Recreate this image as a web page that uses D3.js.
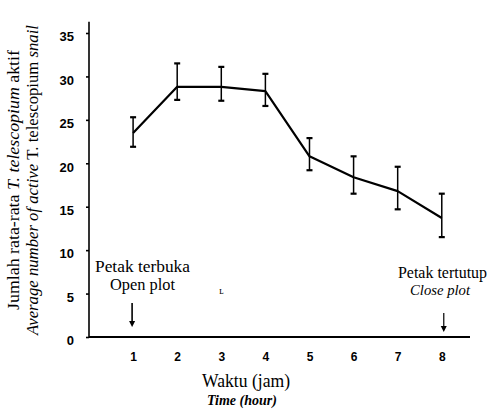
<!DOCTYPE html>
<html><head><meta charset="utf-8">
<script src="https://cdn.jsdelivr.net/npm/d3@7"></script>
<style>body{margin:0;background:#fff}svg{display:block}</style>
</head><body>
<script>
const hours = [1,2,3,4,5,6,7,8];
const means = [23.5, 28.8, 28.8, 28.3, 20.8, 18.4, 16.8, 13.7];
const upper = [25.3, 31.5, 31.1, 30.3, 22.9, 20.8, 19.6, 16.5];
const lower = [21.9, 27.3, 27.2, 26.6, 19.2, 16.5, 14.7, 11.5];
const yTicks = [0,5,10,15,20,25,30,35];
const xTicks = [1,2,3,4,5,6,7,8];

const W=495,H=410;
const svg=d3.select("body").append("svg").attr("width",W).attr("height",H);
const x=d3.scaleLinear().domain([0,8.64]).range([89,470]);
const y=d3.scaleLinear().domain([0,35]).range([337,33]);
const serif="'Liberation Serif','Times New Roman',serif";
const sans="'Liberation Sans',Arial,sans-serif";

// axes
const yAx=svg.append("g").attr("transform",`translate(${x(0)},0)`)
  .call(d3.axisLeft(y).tickValues(yTicks).tickSize(3).tickPadding(12).tickFormat(d3.format("d")));
yAx.select(".domain").remove();
svg.append("line").attr("x1",x(0)).attr("x2",x(0)).attr("y1",y(36.3)).attr("y2",y(0)+1)
  .attr("stroke","#000").attr("stroke-width",1.6);
yAx.selectAll("text").attr("font-family",sans).attr("font-size",13).attr("font-weight",600)
  .attr("fill","#000").attr("dy","0.6em");
yAx.selectAll("line").attr("stroke-width",1.6);

const xAx=svg.append("g").attr("transform",`translate(0,${y(0)})`)
  .call(d3.axisBottom(x).tickValues(xTicks).tickSize(0).tickPadding(15).tickFormat(d3.format("d")));
xAx.select(".domain").remove();
svg.append("line").attr("x1",x(0)).attr("x2",x(8.64)).attr("y1",y(0)).attr("y2",y(0))
  .attr("stroke","#000").attr("stroke-width",2);
xAx.selectAll("text").attr("font-family",sans).attr("font-size",12).attr("font-weight",600).attr("fill","#000");

// error bars
const eb=svg.append("g").attr("stroke","#000").attr("stroke-width",1.5);
hours.forEach((h,i)=>{
  eb.append("line").attr("x1",x(h)).attr("x2",x(h)).attr("y1",y(upper[i])).attr("y2",y(lower[i]));
  eb.append("line").attr("x1",x(h)-3).attr("x2",x(h)+3).attr("y1",y(upper[i])).attr("y2",y(upper[i])).attr("stroke-width",2.2);
  eb.append("line").attr("x1",x(h)-3).attr("x2",x(h)+3).attr("y1",y(lower[i])).attr("y2",y(lower[i])).attr("stroke-width",2.2);
});
// line
svg.append("path").datum(hours.map((h,i)=>[h,means[i]]))
  .attr("d",d3.line().x(d=>x(d[0])).y(d=>y(d[1])))
  .attr("fill","none").attr("stroke","#000").attr("stroke-width",2.2).attr("stroke-linejoin","round");

// annotations
function txt(t,xx,yy,opts={}){
  const e=svg.append("text").attr("x",xx).attr("y",yy).text(t)
   .attr("font-family",serif).attr("font-size",opts.size||15).attr("fill","#000")
   .attr("text-anchor",opts.anchor||"start");
  if(opts.italic) e.attr("font-style","italic");
  if(opts.bold) e.attr("font-weight","bold");
  if(opts.len) e.attr("textLength",opts.len).attr("lengthAdjust","spacingAndGlyphs");
  return e;
}
txt("Petak terbuka",95,272,{size:16,len:95});
txt("Open plot",110,290,{size:16,len:65});
txt("Petak tertutup",398,278,{size:16,len:89});
txt("Close plot",410,295,{italic:true,size:15.5,len:60});
// arrows
function arrow(xx,y1,y2,w){
  svg.append("line").attr("x1",xx).attr("x2",xx).attr("y1",y1).attr("y2",y2-4).attr("stroke","#000").attr("stroke-width",w);
  svg.append("path").attr("d",`M${xx-3},${y2-6}L${xx+3},${y2-6}L${xx},${y2}Z`).attr("fill","#000");
}
arrow(x(1)-1,303,327,1.6);
arrow(x(8)+2,313,332,1.2);
txt("ʟ",x(3)-2,294,{size:10});

// axis titles
txt("Waktu (jam)",202,387,{size:19,len:88});
txt("Time (hour)",207,405,{size:15,italic:true,bold:true,len:70});

const yl1=svg.append("text").attr("transform","translate(19,180) rotate(-90)")
  .attr("text-anchor","middle").attr("font-family",serif).attr("font-size",16).attr("fill","#000")
  .attr("textLength",260).attr("lengthAdjust","spacingAndGlyphs");
yl1.append("tspan").text("Jumlah rata-rata ");
yl1.append("tspan").attr("font-style","italic").text("T. telescopium");
yl1.append("tspan").text(" aktif");
const yl2=svg.append("text").attr("transform","translate(38,180) rotate(-90)")
  .attr("text-anchor","middle").attr("font-family",serif).attr("font-size",16.5).attr("fill","#000")
  .attr("textLength",310).attr("lengthAdjust","spacingAndGlyphs");
yl2.append("tspan").attr("font-style","italic").text("Average number of active ");
yl2.append("tspan").text("T. telescopium ");
yl2.append("tspan").attr("font-style","italic").text("snail");
</script>
</body></html>
